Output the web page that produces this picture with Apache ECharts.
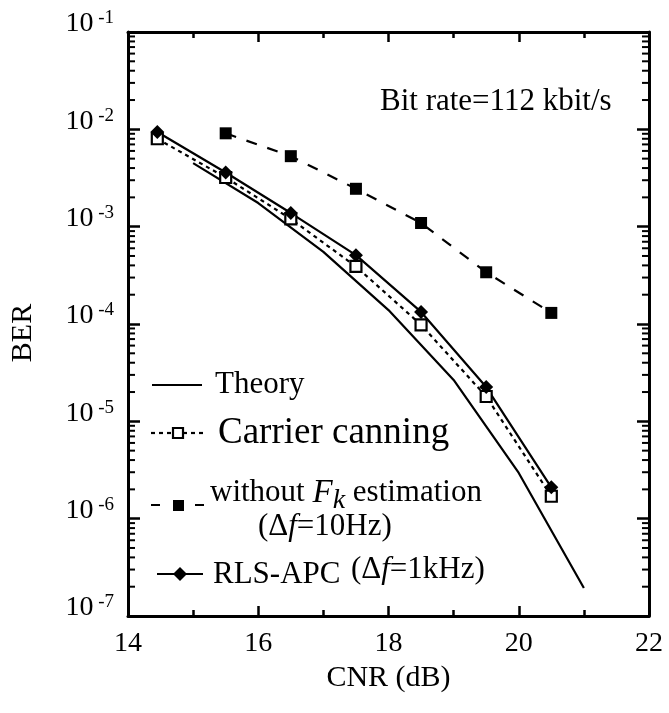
<!DOCTYPE html>
<html>
<head>
<meta charset="utf-8">
<script src="https://cdn.jsdelivr.net/npm/echarts@6/dist/echarts.min.js"></script>
<style>html,body{margin:0;padding:0;background:#fff}#c{width:669px;height:713px}</style>
</head>
<body>
<div id="c"></div>
<script>
// ---- data ----
const xTicks = [14, 16, 18, 20, 22];
const yDecades = [1e-7, 1e-6, 1e-5, 1e-4, 1e-3, 1e-2, 1e-1];
const minorMultipliers = [2, 3, 4, 5, 6, 7, 8, 9];

const cnrTheory = [15, 16, 17, 18, 19, 20, 21];
const berTheory = [4.5e-3, 1.75e-3, 5.5e-4, 1.39e-4, 2.66e-5, 2.95e-6, 1.94e-7];

const cnrCarrier = [14.45, 15.5, 16.5, 17.5, 18.5, 19.5, 20.5];
const berCarrier = [8.0e-3, 3.2e-3, 1.2e-3, 3.9e-4, 9.8e-5, 1.8e-5, 1.7e-6];

const cnrWithout = [15.5, 16.5, 17.5, 18.5, 19.5, 20.5];
const berWithout = [9.1e-3, 5.3e-3, 2.45e-3, 1.09e-3, 3.4e-4, 1.3e-4];

const cnrRls = [14.45, 15.5, 16.5, 17.5, 18.5, 19.5, 20.5];
const berRls = [9.4e-3, 3.6e-3, 1.38e-3, 5.1e-4, 1.33e-4, 2.25e-5, 2.1e-6];

const FONT = 'Liberation Serif';

const zip = (xs, ys) => xs.map((x, i) => [x, ys[i]]);
const minorTickValues = [];
yDecades.slice(0, -1).forEach(d => minorMultipliers.forEach(m => minorTickValues.push([m * d])));

const chart = echarts.init(document.getElementById('c'));

const axisCommon = {
  axisLine: { show: true, lineStyle: { color: '#000', width: 3 } },
  splitLine: { show: false }
};

const option = {
  backgroundColor: '#fff',
  animation: false,
  grid: { left: 127, right: 20, top: 32, bottom: 97 },
  xAxis: [
    Object.assign({}, axisCommon, {
      type: 'value', min: 14, max: 22, interval: 2, position: 'bottom',
      name: 'CNR (dB)', nameLocation: 'middle', nameGap: 46,
      nameTextStyle: { fontFamily: FONT, fontSize: 30, color: '#000' },
      axisTick: { show: true, inside: true, length: 10, lineStyle: { color: '#000', width: 2.5 } },
      minorTick: { show: true, splitNumber: 2, length: 6, lineStyle: { color: '#000', width: 2.5 } },
      axisLabel: { fontFamily: FONT, fontSize: 28, color: '#000', margin: 14,
        formatter: v => (xTicks.indexOf(v) >= 0 ? String(v) : '') }
    }),
    Object.assign({}, axisCommon, {
      type: 'value', min: 14, max: 22, interval: 2, position: 'top',
      axisTick: { show: true, inside: true, length: 10, lineStyle: { color: '#000', width: 2.5 } },
      minorTick: { show: true, splitNumber: 2, length: 6, lineStyle: { color: '#000', width: 2.5 } },
      axisLabel: { show: false }
    })
  ],
  yAxis: [
    Object.assign({}, axisCommon, {
      type: 'log', logBase: 10, min: 1e-7, max: 1e-1, position: 'left',
      name: 'BER', nameLocation: 'middle', nameGap: 90, nameRotate: 90,
      nameTextStyle: { fontFamily: FONT, fontSize: 30, color: '#000', padding: [0, 18, 0, 0] },
      axisTick: { show: true, inside: true, length: 12, lineStyle: { color: '#000', width: 2.5 } },
      axisLabel: {
        margin: 14, padding: [0, 0, 16, 0],
        formatter: v => '{b|10}{s| ' + Math.round(Math.log10(v)) + '}',
        rich: {
          b: { fontFamily: FONT, fontSize: 28, color: '#000', lineHeight: 30 },
          s: { fontFamily: FONT, fontSize: 19, color: '#000', lineHeight: 19, verticalAlign: 'top' }
        }
      }
    }),
    Object.assign({}, axisCommon, {
      type: 'log', logBase: 10, min: 1e-7, max: 1e-1, position: 'right',
      axisTick: { show: true, inside: true, length: 12, lineStyle: { color: '#000', width: 2.5 } },
      axisLabel: { show: false }
    })
  ],
  series: [
    {
      name: 'minor ticks', type: 'custom', xAxisIndex: 0, yAxisIndex: 0,
      silent: true, clip: false, z: 1,
      data: minorTickValues,
      renderItem: (params, api) => {
        const v = api.value(0);
        const l = api.coord([14, v]);
        const r = api.coord([22, v]);
        const st = { stroke: '#000', lineWidth: 2 };
        return { type: 'group', children: [
          { type: 'line', shape: { x1: l[0], y1: l[1], x2: l[0] + 7, y2: l[1] }, style: st },
          { type: 'line', shape: { x1: r[0] - 7, y1: r[1], x2: r[0], y2: r[1] }, style: st }
        ] };
      },
      encode: { y: 0 }
    },
    {
      name: 'Theory', type: 'line', data: zip(cnrTheory, berTheory),
      showSymbol: false, symbol: 'none',
      lineStyle: { color: '#000', width: 2.2, type: 'solid' }
    },
    {
      name: 'Carrier canning', type: 'line', data: zip(cnrCarrier, berCarrier),
      symbol: 'rect', symbolSize: 11,
      lineStyle: { color: '#000', width: 2.2, type: [4, 4] },
      itemStyle: { color: '#fff', borderColor: '#000', borderWidth: 2.2 }
    },
    {
      name: 'without Fk estimation', type: 'line', data: zip(cnrWithout, berWithout),
      symbol: 'rect', symbolSize: 12,
      lineStyle: { color: '#000', width: 2.2, type: [11, 11] },
      itemStyle: { color: '#000' }
    },
    {
      name: 'RLS-APC', type: 'line', data: zip(cnrRls, berRls),
      symbol: 'diamond', symbolSize: 14,
      lineStyle: { color: '#000', width: 2.2, type: 'solid' },
      itemStyle: { color: '#000' }, z: 3
    }
  ],
  graphic: [
    { type: 'text', x: 380, y: 102,
      style: { text: 'Bit rate=112 kbit/s', font: '31px "Liberation Serif"', fill: '#000', verticalAlign: 'middle' } },
    // legend: Theory
    { type: 'line', shape: { x1: 152, y1: 385, x2: 202, y2: 385 }, style: { stroke: '#000', lineWidth: 2.2 } },
    { type: 'text', x: 215, y: 385, style: { text: 'Theory', font: '31px "Liberation Serif"', fill: '#000', verticalAlign: 'middle' } },
    // legend: Carrier canning
    { type: 'line', shape: { x1: 151, y1: 433, x2: 207, y2: 433 }, style: { stroke: '#000', lineWidth: 2.2, lineDash: [4, 4] } },
    { type: 'rect', shape: { x: 173, y: 428, width: 10, height: 10 }, style: { fill: '#fff', stroke: '#000', lineWidth: 2.2 } },
    { type: 'text', x: 218, y: 433, style: { text: 'Carrier canning', font: '37px "Liberation Serif"', fill: '#000', verticalAlign: 'middle' } },
    // legend: without Fk
    { type: 'line', shape: { x1: 151, y1: 505, x2: 207, y2: 505 }, style: { stroke: '#000', lineWidth: 2.2, lineDash: [9, 13] } },
    { type: 'rect', shape: { x: 173, y: 500, width: 11, height: 11 }, style: { fill: '#000' } },
    { type: 'text', x: 210, y: 495, style: {
        text: '{n|without }{i|F}{k|k}{n| estimation}', verticalAlign: 'middle',
        rich: {
          n: { fontFamily: FONT, fontSize: 31, fill: '#000', lineHeight: 39, verticalAlign: 'top', padding: [2, 0, 0, 0] },
          i: { fontFamily: FONT, fontSize: 33, fontStyle: 'italic', fill: '#000', lineHeight: 39, verticalAlign: 'top', padding: [1, 0, 0, 0] },
          k: { fontFamily: FONT, fontSize: 28, fontStyle: 'italic', fill: '#000', lineHeight: 28, verticalAlign: 'bottom' }
        } } },
    { type: 'text', x: 258, y: 527, style: {
        text: '{n|(Δ}{i|f}{n|=10Hz)}', verticalAlign: 'middle',
        rich: {
          n: { fontFamily: FONT, fontSize: 31, fill: '#000' },
          i: { fontFamily: FONT, fontSize: 31, fontStyle: 'italic', fill: '#000' }
        } } },
    // legend: RLS-APC
    { type: 'line', shape: { x1: 157, y1: 574, x2: 203, y2: 574 }, style: { stroke: '#000', lineWidth: 2.2 } },
    { type: 'polygon', shape: { points: [[180, 567], [187, 574], [180, 581], [173, 574]] }, style: { fill: '#000' } },
    { type: 'text', x: 213, y: 575, style: { text: 'RLS-APC', font: '31px "Liberation Serif"', fill: '#000', verticalAlign: 'middle' } },
    { type: 'text', x: 351, y: 570, style: {
        text: '{n|(Δ}{i|f}{n|=1kHz)}', verticalAlign: 'middle',
        rich: {
          n: { fontFamily: FONT, fontSize: 31, fill: '#000' },
          i: { fontFamily: FONT, fontSize: 31, fontStyle: 'italic', fill: '#000' }
        } } }
  ]
};
chart.setOption(option);
</script>
</body>
</html>
